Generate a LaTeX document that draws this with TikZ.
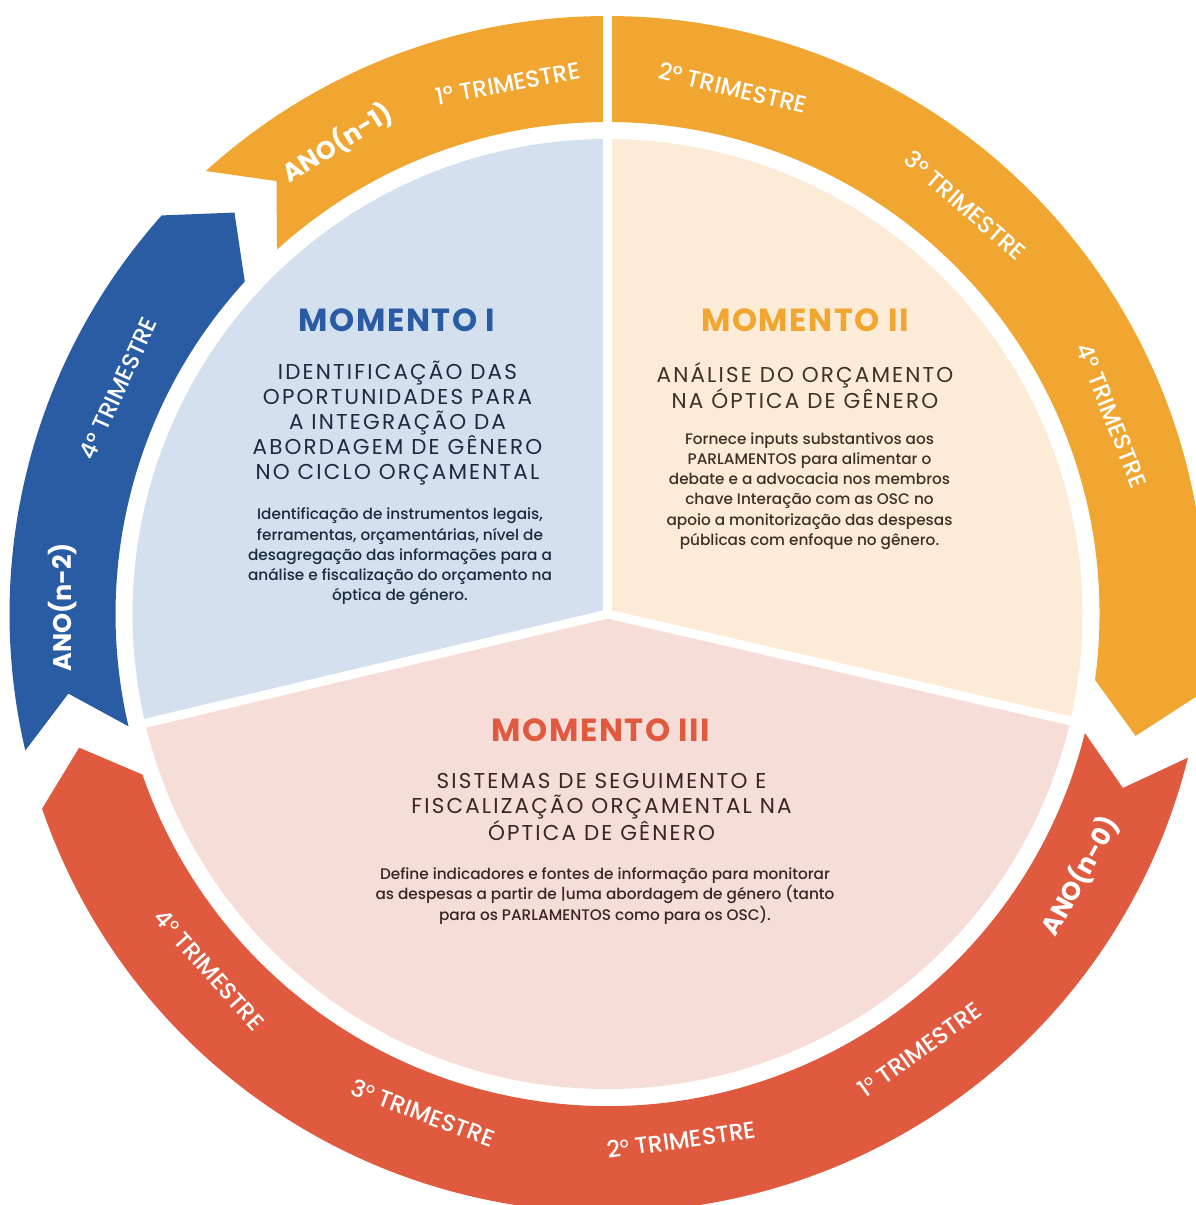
\documentclass[tikz,border=0pt]{standalone}
\usepackage{fontspec}
\setmainfont{Poppins}
\newfontfamily\medfont{Poppins Medium}
\newfontfamily\spacedfont[LetterSpace=10]{Poppins}
\newfontfamily\headfont[LetterSpace=5]{Poppins Bold}
\newfontfamily\yearfont{Poppins Bold}
\definecolor{ringorange}{HTML}{F0A630}
\definecolor{ringblue}{HTML}{2A5CA4}
\definecolor{ringred}{HTML}{E05A3F}
\definecolor{pieblue}{HTML}{D4E0ED}
\definecolor{piecream}{HTML}{FCEBD6}
\definecolor{piepink}{HTML}{F7DDD8}
\definecolor{inkblue}{HTML}{1C2A3E}
\definecolor{inkbrown}{HTML}{3C3126}
\definecolor{inkred}{HTML}{3A2424}
% raised small "o" used as ordinal mark on the red band
\newcommand{\ordo}{\raisebox{0.36em}{\fontsize{14}{14}\selectfont o}}
\tikzset{
  ringlabel/.style={text=white, inner sep=0pt, font=\medfont\fontsize{23.5}{26}\selectfont},
  yearlabel/.style={text=white, inner sep=0pt, font=\yearfont\fontsize{25.5}{28}\selectfont},
  heading/.style={inner sep=0pt, font=\headfont\fontsize{32}{36}\selectfont},
  subtitle/.style={inner sep=0pt, align=center, font=\spacedfont\fontsize{21.5}{25}\selectfont},
  bodytext/.style={inner sep=0pt, align=center, font=\medfont\fontsize{15.3}{20.3}\selectfont},
  gap/.style={white, line width=9pt}
}
\begin{document}
\begin{tikzpicture}[x=1pt,y=1pt]
\useasboundingbox (-607.5,-591) rectangle (587.5,614);

% inner pie: three sectors
\fill[pieblue] (0,0) -- (90:475) arc[start angle=90,end angle=193.3,radius=475pt] -- cycle;
\fill[piecream] (0,0) -- (-13:475) arc[start angle=-13,end angle=90,radius=475pt] -- cycle;
\fill[piepink] (0,0) -- (193.3:475) arc[start angle=193.3,end angle=347,radius=475pt] -- cycle;
\coordinate (c) at (0,0);
\coordinate (sepA) at (90:490);
\coordinate (sepB) at (193.3:490);
\coordinate (sepC) at (-13:490);
\draw[gap] (sepB) -- (c) -- (sepC);
\draw[gap] (c) -- (sepA);

% outer ring: orange band (ANO n-1), with a notch at its start and a point at its end
\fill[ringorange] (132.2:598) arc[start angle=132.2,end angle=-7.7,radius=598pt]
  -- (-13:542) -- (-7.7:492) arc[start angle=-7.7,end angle=132.2,radius=492pt]
  -- (127.4:545) -- cycle;
% blue band (ANO n-2)
\fill[ringblue] (138.2:598) arc[start angle=138.2,end angle=193.2,radius=598pt]
  -- (188.4:545) -- (193.2:492) arc[start angle=193.2,end angle=137.5,radius=492pt]
  -- (132.9:548) -- cycle;
% red band (ANO n-0)
\fill[ringred] (199:598) arc[start angle=199,end angle=346.1,radius=598pt]
  -- (341.35:544) -- (346:492) arc[start angle=346,end angle=199.05,radius=492pt]
  -- (194.2:545) -- cycle;
% split of the orange band at the top
\coordinate (topA) at (0,470);
\coordinate (topB) at (0,616);
\draw[gap] (topA) -- (topB);

% labels on the orange band
\node[yearlabel, rotate=32] (anoA) at (119.8:543) {ANO(n-1)};
\node[ringlabel, rotate=10.6] (tA1) at (100.6:540) {1° TRIMESTRE};
\node[ringlabel, rotate=-13.4] (tA2) at (76.6:541) {2° TRIMESTRE};
\node[ringlabel, rotate=-41.2] (tA3) at (48.8:543) {3° TRIMESTRE};
\node[ringlabel, rotate=-68.5] (tA4) at (21.5:542) {4° TRIMESTRE};
% labels on the blue band
\node[ringlabel, rotate=65.2] (tB4) at (155.2:539) {4° TRIMESTRE};
\node[yearlabel, rotate=90] (anoB) at (179.3:545) {ANO(n-2)};
% labels on the red band
\node[ringlabel, rotate=-48.2] (tC4) at (221.8:534) {4\ordo\ TRIMESTRE};
\node[ringlabel, rotate=-20.3] (tC3) at (249.7:532) {3\ordo\ TRIMESTRE};
\node[ringlabel, rotate=8] (tC2) at (278:531) {2\ordo\ TRIMESTRE};
\node[ringlabel, rotate=35.6] (tC1) at (305.6:536) {1\ordo\ TRIMESTRE};
\node[yearlabel, rotate=61] (anoC) at (331:540) {ANO(n-0)};

% Momento I
\node[heading, text=ringblue] (m1) at (-210.5,294) {MOMENTO I};
\node[subtitle, text=inkblue] (m1t) at (-210,191) {IDENTIFICAÇÃO DAS\\OPORTUNIDADES PARA\\A INTEGRAÇÃO DA\\ABORDAGEM DE GÊNERO\\NO CICLO ORÇAMENTAL};
\node[bodytext, text=inkblue] (m1b) at (-207.5,57.5) {Identificação de instrumentos legais,\\ferramentas, orçamentárias, nível de\\desagregação das informações para a\\análise e fiscalização do orçamento na\\óptica de género.};

% Momento II
\node[heading, text=ringorange] (m2) at (197.5,294) {MOMENTO II};
\node[subtitle, text=inkbrown] (m2t) at (197.5,228.5) {ANÁLISE DO ORÇAMENTO\\NA ÓPTICA DE GÊNERO};
\node[bodytext, text=inkbrown] (m2b) at (202,123) {Fornece inputs substantivos aos\\PARLAMENTOS para alimentar o\\debate e a advocacia nos membros\\chave Interação com as OSC no\\apoio a monitorização das despesas\\públicas com enfoque no gênero.};

% Momento III
\node[heading, text=ringred] (m3) at (-6.5,-116) {MOMENTO III};
\node[subtitle, text=inkred] (m3t) at (-6,-193) {SISTEMAS DE SEGUIMENTO E\\FISCALIZAÇÃO ORÇAMENTAL NA\\ÓPTICA DE GÊNERO};
\node[bodytext, text=inkred] (m3b) at (-2.5,-282) {Define indicadores e fontes de informação para monitorar\\as despesas a partir de |uma abordagem de género (tanto\\para os PARLAMENTOS como para os OSC).};
\end{tikzpicture}
\end{document}
